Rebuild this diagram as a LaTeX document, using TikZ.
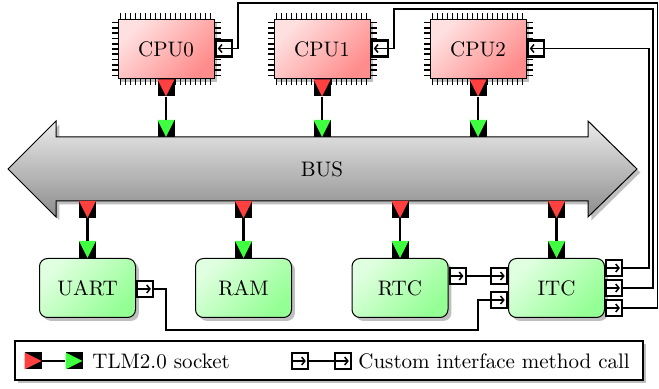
\documentclass[tikz,border=0pt]{standalone}
\usetikzlibrary{shadows,arrows.meta,calc}
\begin{document}
\begin{tikzpicture}[x=0.5pt,y=-0.5pt,
  every node/.style={font=\fontsize{10.5}{12}\selectfont},
  shadowed/.style={drop shadow={shadow xshift=1.7pt,shadow yshift=-1.7pt,fill=black!25,opacity=1}},
  cpubox/.style={rectangle,draw=black,line width=0.5pt,minimum width=48pt,minimum height=29.5pt,inner sep=0pt,top color=red!12,middle color=red!38,bottom color=red!45,shading angle=45,shadowed},
  devbox/.style={rectangle,draw=black,line width=0.5pt,minimum width=48pt,minimum height=29.5pt,inner sep=0pt,rounded corners=4pt,top color=green!12,middle color=green!36,bottom color=green!42,shading angle=45,shadowed},
  pin/.style={line width=0.85pt},
  sockdown/.style={rectangle,fill=black,minimum size=8.5pt,inner sep=0pt,path picture={\fill[#1] (path picture bounding box.north west) -- (path picture bounding box.north east) -- (path picture bounding box.south) -- cycle;}},
  sockright/.style={rectangle,fill=black,minimum size=8.5pt,inner sep=0pt,path picture={\fill[#1] (path picture bounding box.north west) -- (path picture bounding box.south west) -- (path picture bounding box.east) -- cycle;}},
  initD/.style={sockdown=red!75!white},
  targD/.style={sockdown=green!75!white},
  portR/.style={rectangle,draw=black,line width=1.1pt,fill=white,minimum size=8pt,inner sep=0pt,path picture={\draw[line width=0.75pt,-{Straight Barb[length=1.6pt,width=4pt]}] ([xshift=0.3pt]path picture bounding box.west) -- ([xshift=-1.1pt]path picture bounding box.east);}},
  portL/.style={rectangle,draw=black,line width=1.1pt,fill=white,minimum size=8pt,inner sep=0pt,path picture={\draw[line width=0.75pt,-{Straight Barb[length=1.6pt,width=4pt]}] ([xshift=-0.3pt]path picture bounding box.east) -- ([xshift=1.1pt]path picture bounding box.west);}},
  conn/.style={line width=0.8pt},
  tlm/.style={line width=1.4pt},
  busstyle/.style={draw=black,line width=0.5pt,top color=black!8,bottom color=black!45,shadowed}
]
\useasboundingbox (0,0) rectangle (659,389);

% bus
\path[busstyle] (8,169) -- (56,121) -- (56,137) -- (588,137) -- (588,121) -- (637,169) -- (588,217) -- (588,201) -- (56,201) -- (56,217) -- cycle;
\node (bus) at (322,169) {BUS};

% CPUs
\node[cpubox] (cpu0) at (166,49.5) {CPU0};
\node[cpubox] (cpu1) at (322,49.5) {CPU1};
\node[cpubox] (cpu2) at (478,49.5) {CPU2};
\foreach \c in {cpu0,cpu1,cpu2}{
  \foreach \i in {0,...,18}{
    \draw[pin] ($(\c.north west)+(3+5*\i,0)$) -- ++(0,-6);
    \draw[pin] ($(\c.south west)+(3+5*\i,0)$) -- ++(0,6);
  }
  \foreach \i in {0,...,10}{
    \draw[pin] ($(\c.north west)+(0,3+5.3*\i)$) -- ++(-6,0);
    \draw[pin] ($(\c.north east)+(0,3+5.3*\i)$) -- ++(6,0);
  }
}

% devices
\node[devbox] (uart) at (87.5,288) {UART};
\node[devbox] (ram) at (243.5,288) {RAM};
\node[devbox] (rtc) at (400,288) {RTC};
\node[devbox] (itc) at (556.5,288) {ITC};

% TLM sockets
\node[initD] (cpu0i) at (166,88) {};
\node[initD] (cpu1i) at (322,88) {};
\node[initD] (cpu2i) at (478,88) {};
\node[targD] (bust0) at (166,128.5) {};
\node[targD] (bust1) at (322,128.5) {};
\node[targD] (bust2) at (478,128.5) {};
\draw[tlm] (cpu0i) -- (bust0);
\draw[tlm] (cpu1i) -- (bust1);
\draw[tlm] (cpu2i) -- (bust2);

\node[initD] (busi0) at (87.5,209.5) {};
\node[initD] (busi1) at (243.5,209.5) {};
\node[initD] (busi2) at (400,209.5) {};
\node[initD] (busi3) at (556.5,209.5) {};
\node[targD] (uartt) at (87.5,249.5) {};
\node[targD] (ramt) at (243.5,249.5) {};
\node[targD] (rtct) at (400,249.5) {};
\node[targD] (itct) at (556.5,249.5) {};
\draw[tlm] (busi0) -- (uartt);
\draw[tlm] (busi1) -- (ramt);
\draw[tlm] (busi2) -- (rtct);
\draw[tlm] (busi3) -- (itct);

% interface ports
\node[portL,anchor=west] (cpu0p) at ($(cpu0.east)+(0,-1)$) {};
\node[portL,anchor=west] (cpu1p) at ($(cpu1.east)+(0,-1)$) {};
\node[portL,anchor=west] (cpu2p) at ($(cpu2.east)+(0,-1)$) {};
\node[portR,anchor=west] (uartp) at ($(uart.east)+(0,1)$) {};
\node[portR,anchor=west] (rtcp) at ($(rtc.east)+(0,-12)$) {};
\node[portR,anchor=east] (itcl1) at ($(itc.west)+(0,-12)$) {};
\node[portR,anchor=east] (itcl2) at ($(itc.west)+(0,12)$) {};
\node[portR,anchor=west] (itcr1) at ($(itc.east)+(0,-20)$) {};
\node[portR,anchor=west] (itcr2) at ($(itc.east)+(0,0)$) {};
\node[portR,anchor=west] (itcr3) at ($(itc.east)+(0,20)$) {};

% routing corners
\coordinate (u1) at (166,330);
\coordinate (u2) at (478,330);
\coordinate (x2) at (649,0);
\coordinate (x1) at (653,9);
\coordinate (x0) at (657.5,3);
\coordinate (y1) at (394,9);
\coordinate (y0) at (238,3);

\draw[conn] (rtcp.east) -- (itcl1.west);
\draw[conn] (uartp.east) -| (u1) -- (u2) |- (itcl2.west);
\draw[conn] (itcr1.east) -| (x2 |- cpu2p.east) -- (cpu2p.east);
\draw[conn] (itcr2.east) -| (x1) -- (y1) |- (cpu1p.east);
\draw[conn] (itcr3.east) -| (x0) -- (y0) |- (cpu0p.east);

% legend
\node[draw=black,line width=0.6pt,fill=white,shadowed,minimum width=314pt,minimum height=19.5pt,inner sep=0pt] (legend) at (329,360.5) {};
\node[sockright=red!75!white] (lgi) at (33,361) {};
\node[sockright=green!75!white] (lgt) at (74,361) {};
\draw[tlm] (lgi) -- (lgt);
\node[anchor=west,inner sep=0pt] (lgtxt1) at (92,361) {TLM2.0 socket};
\node[portR] (lgp1) at (300,361) {};
\node[portR] (lgp2) at (343,361) {};
\draw[conn] (lgp1) -- (lgp2);
\node[anchor=west,inner sep=0pt] (lgtxt2) at (358,361) {Custom interface method call};
\end{tikzpicture}
\end{document}
